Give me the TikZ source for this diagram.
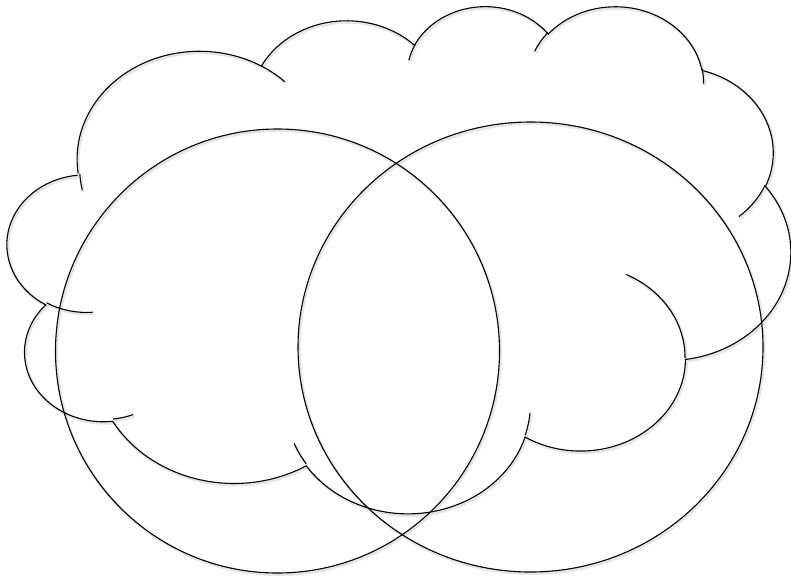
\documentclass[tikz,border=0pt]{standalone}
\newcommand\cldcalc[4]{%
  \pgfmathparse{atan2((#1)*sin(#3),(#2)*cos(#3))}\xdef\cldA{\pgfmathresult}%
  \pgfmathparse{atan2((#1)*sin(#3+#4),(#2)*cos(#3+#4))}\xdef\cldB{\pgfmathresult}%
  \pgfmathparse{\cldB-\cldA}\let\cldT\pgfmathresult
  \pgfmathparse{\cldT<0 ? \cldT+360 : \cldT}\xdef\cldD{\pgfmathresult}%
}
\newcommand\mypaths{%
  \begin{scope}[shift={(7.5,5)}, x=0.906250pt, y=-0.586806pt]
    \draw[lnc] (39.00,143.70)
      \pgfextra{\cldcalc{67.53}{91.90}{-190.48748}{123.78053}} arc[start angle=\cldA, delta angle=\cldD, x radius=67.53, y radius=91.90]
      \pgfextra{\cldcalc{53.33}{72.67}{-144.10238}{89.94523}} arc[start angle=\cldA, delta angle=\cldD, x radius=53.33, y radius=72.67]
      \pgfextra{\cldcalc{43.65}{59.45}{-145.80792}{99.72302}} arc[start angle=\cldA, delta angle=\cldD, x radius=43.65, y radius=59.45]
      \pgfextra{\cldcalc{48.57}{65.95}{-130.98607}{117.24173}} arc[start angle=\cldA, delta angle=\cldD, x radius=48.57, y radius=65.95]
      \pgfextra{\cldcalc{53.33}{72.73}{-78.70888}{109.02692}} arc[start angle=\cldA, delta angle=\cldD, x radius=53.33, y radius=72.73]
      \pgfextra{\cldcalc{67.75}{92.20}{-46.26725}{130.269}} arc[start angle=\cldA, delta angle=\cldD, x radius=67.75, y radius=92.20]
      \pgfextra{\cldcalc{57.85}{78.67}{0.62502}{114.03333}} arc[start angle=\cldA, delta angle=\cldD, x radius=57.85, y radius=78.67]
      \pgfextra{\cldcalc{67.52}{92.15}{22.4516}{115.17255}} arc[start angle=\cldA, delta angle=\cldD, x radius=67.52, y radius=92.15]
      \pgfextra{\cldcalc{77.20}{105.43}{66.24263}{75.71102}} arc[start angle=\cldA, delta angle=\cldD, x radius=77.20, y radius=105.43]
      \pgfextra{\cldcalc{43.60}{59.18}{-274.94208}{146.73557}} arc[start angle=\cldA, delta angle=\cldD, x radius=43.60, y radius=59.18]
      \pgfextra{\cldcalc{43.45}{59.45}{-246.8285}{152.51885}} arc[start angle=\cldA, delta angle=\cldD, x radius=43.45, y radius=59.45];
    \draw[lnc] (46.93,261.77) \pgfextra{\cldcalc{43.45}{59.45}{86.742}{26.4295}} arc[start angle=\cldA, delta angle=\cldD, x radius=43.45, y radius=59.45];
    \draw[lnc] (69.28,348.99) \pgfextra{\cldcalc{43.60}{59.18}{73.61047}{11.44747}} arc[start angle=\cldA, delta angle=\cldD, x radius=43.60, y radius=59.18];
    \draw[lnc] (164.78,390.90) \pgfextra{\cldcalc{67.52}{92.15}{137.62415}{14.0811}} arc[start angle=\cldA, delta angle=\cldD, x radius=67.52, y radius=92.15];
    \draw[lnc] (288.27,347.51) \pgfextra{\cldcalc{67.52}{92.15}{6.45327}{15.99835}} arc[start angle=\cldA, delta angle=\cldD, x radius=67.52, y radius=92.15];
    \draw[lnc] (341.29,229.54) \pgfextra{\cldcalc{57.85}{78.67}{-70.29235}{70.91737}} arc[start angle=\cldA, delta angle=\cldD, x radius=57.85, y radius=78.67];
    \draw[lnc] (417.98,153.54) \pgfextra{\cldcalc{53.33}{72.73}{30.31803}{27.7515}} arc[start angle=\cldA, delta angle=\cldD, x radius=53.33, y radius=72.73];
    \draw[lnc] (383.24,54.26) \pgfextra{\cldcalc{48.57}{65.95}{-13.74433}{14.8589}} arc[start angle=\cldA, delta angle=\cldD, x radius=48.57, y radius=65.95];
    \draw[lnc] (290.78,39.52) \pgfextra{\cldcalc{48.57}{65.95}{-149.18145}{18.19537}} arc[start angle=\cldA, delta angle=\cldD, x radius=48.57, y radius=65.95];
    \draw[lnc] (221.41,47.20) \pgfextra{\cldcalc{43.65}{59.45}{-163.49427}{17.68635}} arc[start angle=\cldA, delta angle=\cldD, x radius=43.65, y radius=59.45];
    \draw[lnc] (140.00,51.92) \pgfextra{\cldcalc{67.53}{91.90}{-66.70695}{12.31935}} arc[start angle=\cldA, delta angle=\cldD, x radius=67.53, y radius=91.90];
    \draw[lnc] (41.27,157.89) \pgfextra{\cldcalc{67.53}{91.90}{163.87082}{11.8516}} arc[start angle=\cldA, delta angle=\cldD, x radius=67.53, y radius=91.90];
  \end{scope}
  \draw[lnc] (277.5,351) circle[radius=222];
  \draw[lnc] (530.5,347) ellipse[x radius=232.5, y radius=225];
}
\begin{document}
\begin{tikzpicture}[x=0.5pt,y=-0.5pt]
  \useasboundingbox (0,0) rectangle (791,578);
  \begin{scope}[shift={(1.2,1.6)}, lnc/.style={draw=black!10, line width=1.4pt}]
    \mypaths
  \end{scope}
  \begin{scope}[lnc/.style={draw=black, line width=0.55pt}]
    \mypaths
  \end{scope}
\end{tikzpicture}
\end{document}
